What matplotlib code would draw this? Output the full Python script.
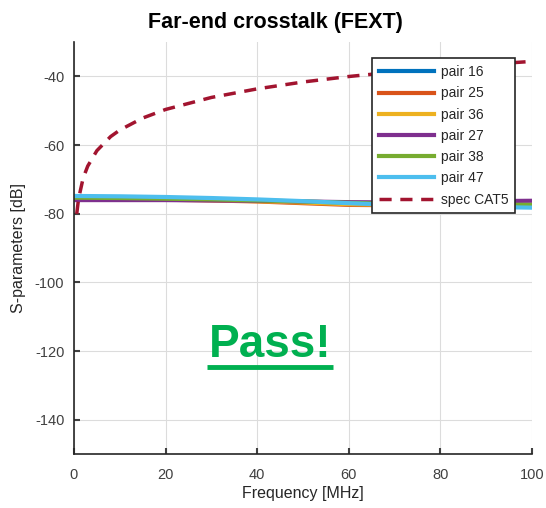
import numpy as np
import matplotlib
matplotlib.use('Agg')
import matplotlib.pyplot as plt

plt.rcParams['font.family'] = ['Liberation Sans', 'DejaVu Sans']
plt.rcParams['axes.unicode_minus'] = False

# frequency points [MHz] and values [dB]
freq = [0.5, 10, 20, 30, 40, 50, 60, 70, 80, 90, 100]
pair16 = [-75.4, -75.5, -75.7, -75.9, -76.2, -76.6, -77.0, -77.3, -77.4, -77.5, -77.6]
pair25 = [-75.6, -75.7, -75.9, -76.1, -76.4, -76.9, -77.4, -77.5, -77.4, -77.4, -77.5]
pair36 = [-75.5, -75.6, -75.8, -76.0, -76.3, -76.7, -77.2, -77.4, -77.4, -77.5, -77.5]
pair27 = [-76.0, -76.0, -76.0, -76.1, -76.2, -76.4, -76.6, -76.7, -76.5, -76.3, -76.2]
pair38 = [-75.3, -75.4, -75.6, -75.8, -76.1, -76.4, -76.8, -77.1, -77.2, -77.3, -77.4]
pair47 = [-74.8, -74.9, -75.1, -75.4, -75.8, -76.3, -76.9, -77.4, -77.7, -78.0, -78.2]

spec_f = [0.6, 1, 2, 3, 5, 8, 10, 15, 20, 30, 40, 50, 60, 70, 80, 90, 100]
spec_db = [-80.0, -75.6, -69.6, -66.1, -61.6, -57.5, -55.6, -52.1, -49.6,
           -46.1, -43.6, -41.6, -40.0, -38.7, -37.5, -36.5, -35.6]

pairs = [pair16, pair25, pair36, pair27, pair38, pair47]
labels = ['pair 16', 'pair 25', 'pair 36', 'pair 27', 'pair 38', 'pair 47']
colors = ['#0072BD', '#D95319', '#EDB120', '#7E2F8E', '#77AC30', '#4DBEEE']

fig = plt.figure(figsize=(5.46, 5.08), dpi=100)
ax = fig.add_axes([0.1355, 0.106, 0.839, 0.811])

for vals, lab, c in zip(pairs, labels, colors):
    ax.plot(freq, vals, color=c, lw=3, label=lab)
ax.plot(spec_f, spec_db, '--', color='#A2142F', lw=2.5, dashes=(3.5, 2.5), label='spec CAT5')

ax.set_xlim(0, 100)
ax.set_ylim(-150, -30)
ax.set_xticks([0, 20, 40, 60, 80, 100])
ax.set_yticks([-140, -120, -100, -80, -60, -40])
ax.grid(True, color='#dcdcdc', lw=0.8)
ax.tick_params(direction='in', labelsize=10.5, colors='#404040', length=4, width=1.5)
ax.tick_params(axis='x', pad=10)
ax.tick_params(axis='y', pad=7)
for s in ['top', 'right']:
    ax.spines[s].set_visible(False)
for s in ['left', 'bottom']:
    ax.spines[s].set_color('#262626')
    ax.spines[s].set_linewidth(1.2)

ax.set_xlabel('Frequency [MHz]', fontsize=11.5, color='#262626', labelpad=3)
ax.set_ylabel('S-parameters [dB]', fontsize=11.5, color='#262626', labelpad=6)
ax.set_title('Far-end crosstalk (FEXT)', fontsize=15.5, fontweight='bold', x=0.44, y=1.0, pad=10)

leg = ax.legend(loc='upper right', fontsize=10, handlelength=4.0, handletextpad=0.45,
                framealpha=1, fancybox=False, edgecolor='#262626', borderaxespad=0,
                labelspacing=0.52, borderpad=0.5, bbox_to_anchor=(0.963, 0.961))
leg.get_frame().set_linewidth(1.2)
for t in leg.get_texts():
    t.set_color('#262626')

ax.text(42.9, -118.3, 'Pass!', color='#00B050', fontsize=33, fontweight='bold',
        ha='center', va='center')
ax.plot([29, 56.5], [-124.7, -124.7], color='#00B050', lw=3.5, solid_capstyle='butt')

fig.savefig('out.png', dpi=100)
